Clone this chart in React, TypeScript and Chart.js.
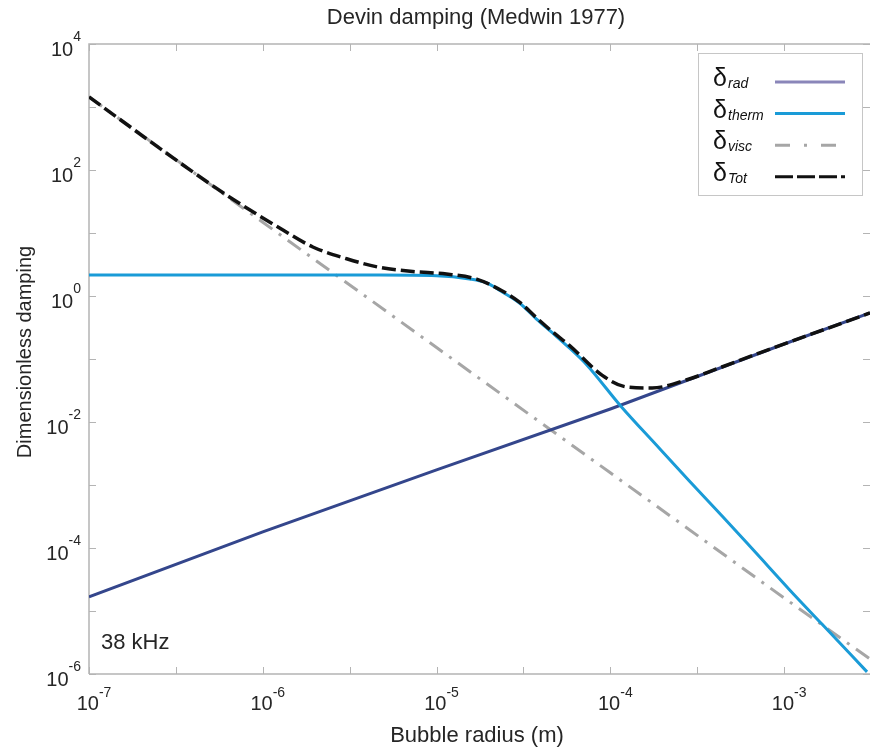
import React, { useEffect, useRef } from "react";
import { Chart, registerables } from "chart.js";

Chart.register(...registerables);

// ---- data ----
const radRadius = [1e-7, 1e-6, 1e-5, 1e-4, 1e-3, 3.12e-3];
const radDamping = [1.67e-5, 1.8e-4, 1.74e-3, 1.61e-2, 0.173, 0.537];

const viscRadius = [1e-7, 1e-6, 1e-5, 1e-4, 1e-3, 3.12e-3];
const viscDamping = [1443, 14.8, 0.152, 1.56e-3, 1.61e-5, 1.73e-6];

const thermRadius = [
  1e-7, 1e-6, 4.7e-6, 1e-5, 1.55e-5, 1.94e-5, 2.39e-5, 3.0e-5, 3.76e-5, 4.65e-5,
  5.81e-5, 7.28e-5, 1.16e-4, 1.84e-4, 2.84e-4, 4.41e-4, 6.9e-4, 1.07e-3, 1.65e-3, 3.0e-3,
];
const thermDamping = [
  2.15, 2.15, 2.15, 2.1, 1.86, 1.61, 1.16, 0.774, 0.431, 0.259,
  0.15, 0.082, 0.0173, 4.3e-3, 1.17e-3, 3.2e-4, 8.3e-5, 2.2e-5, 6.2e-6, 1.08e-6,
];

const totRadius = [
  1e-7, 3.34e-7, 6.46e-7, 1.25e-6, 1.94e-6, 3.04e-6, 4.7e-6, 7.28e-6, 1.14e-5, 1.7e-5,
  2.39e-5, 3.0e-5, 3.76e-5, 4.65e-5, 5.81e-5, 8.99e-5, 1.24e-4, 1.74e-4, 2.73e-4, 4.23e-4,
  7.18e-4, 3.12e-3,
];
const totDamping = [
  1445, 130, 37, 12, 6.0, 3.9, 2.85, 2.45, 2.23, 1.85,
  1.2, 0.8, 0.45, 0.27, 0.165, 0.055, 0.036, 0.0347, 0.0464, 0.072,
  0.124, 0.537,
];

const xLabelExponents = [-7, -6, -5, -4, -3];
const xTickExponents = [-7, -6.5, -6, -5.5, -5, -4.5, -4, -3.5, -3, -2.5];
const yLabelExponents = [-6, -4, -2, 0, 2, 4];
const yTickExponents = [-6, -5, -4, -3, -2, -1, 0, 1, 2, 3, 4];

const legendSymbols = ["δ", "δ", "δ", "δ"];
const legendSubscripts = ["rad", "therm", "visc", "Tot"];

const titleText = "Devin damping (Medwin 1977)";
const xTitle = "Bubble radius (m)";
const yTitle = "Dimensionless damping";
const noteText = "38 kHz";

const FONT = '"Liberation Sans", Arial, Helvetica, sans-serif';
const TEXT = "#262626";
const FRAME = "#b4b4b4";

const COL_RAD = "#34468c";
const COL_RAD_LEG = "#8a86b9";
const COL_THERM = "#1a9bd7";
const COL_VISC = "#a6a6a6";
const COL_TOT = "#111111";

const zip = (xs: number[], ys: number[]) => xs.map((x, i) => ({ x, y: ys[i] }));

const decor = {
  id: "decor",
  beforeDatasetsDraw(chart: any) {
    const { ctx, chartArea: a, scales } = chart;
    const xs = scales.x, ys = scales.y;
    ctx.save();
    ctx.strokeStyle = FRAME;
    ctx.lineWidth = 1.5;
    ctx.beginPath();
    ctx.moveTo(a.left, a.bottom);
    ctx.lineTo(a.left, a.top);
    ctx.lineTo(a.right + 2, a.top);
    ctx.moveTo(a.left, a.bottom);
    ctx.lineTo(a.right + 2, a.bottom);
    ctx.stroke();
    ctx.lineWidth = 1;
    ctx.beginPath();
    const T = 7;
    xTickExponents.forEach((e) => {
      const px = Math.round(xs.getPixelForValue(Math.pow(10, e))) + 0.5;
      ctx.moveTo(px, a.bottom);
      ctx.lineTo(px, a.bottom - T);
      ctx.moveTo(px, a.top);
      ctx.lineTo(px, a.top + T);
    });
    yTickExponents.forEach((e) => {
      const py = Math.round(ys.getPixelForValue(Math.pow(10, e))) + 0.5;
      ctx.moveTo(a.left, py);
      ctx.lineTo(a.left + T, py);
      ctx.moveTo(a.right, py);
      ctx.lineTo(a.right - T, py);
    });
    ctx.stroke();
    ctx.restore();
  },
  afterDraw(chart: any) {
    const { ctx, chartArea: a, scales } = chart;
    const xs = scales.x, ys = scales.y;
    ctx.save();
    ctx.fillStyle = TEXT;
    ctx.textBaseline = "alphabetic";
    ctx.textAlign = "left";

    const big = `20px ${FONT}`;
    const small = `14px ${FONT}`;
    const measure = (t: string, f: string) => { ctx.font = f; return ctx.measureText(t).width; };

    // y tick labels
    yLabelExponents.forEach((e) => {
      const py = ys.getPixelForValue(Math.pow(10, e));
      const es = String(e);
      const w10 = measure("10", big);
      const we = measure(es, small);
      const start = a.left - 8 - (w10 + we);
      ctx.font = big; ctx.fillText("10", start, py + 12);
      ctx.font = small; ctx.fillText(es, start + w10, py - 3);
    });
    // x tick labels
    xLabelExponents.forEach((e) => {
      const px = xs.getPixelForValue(Math.pow(10, e));
      const es = String(e);
      const w10 = measure("10", big);
      const we = measure(es, small);
      const start = px + 5 - (w10 + we) / 2;
      ctx.font = big; ctx.fillText("10", start, a.bottom + 36);
      ctx.font = small; ctx.fillText(es, start + w10, a.bottom + 23);
    });

    // titles
    ctx.textAlign = "center";
    ctx.font = `22px ${FONT}`;
    ctx.fillText(titleText, 476, 24);
    ctx.fillText(xTitle, 477, 742);
    ctx.save();
    ctx.translate(31, 352);
    ctx.rotate(-Math.PI / 2);
    ctx.font = `20px ${FONT}`;
    ctx.fillText(yTitle, 0, 0);
    ctx.restore();

    // note
    ctx.textAlign = "left";
    ctx.font = `22px ${FONT}`;
    ctx.fillText(noteText, 101, 649);

    // legend
    ctx.fillStyle = "#ffffff";
    ctx.fillRect(698.5, 53.5, 164, 142);
    ctx.strokeStyle = "#c6c6c6";
    ctx.lineWidth = 1;
    ctx.strokeRect(698.5, 53.5, 164, 142);
    const colors = [COL_RAD_LEG, COL_THERM, COL_VISC, COL_TOT];
    const dashes = [[], [], [15, 14, 3, 14], [18, 4]];
    legendSymbols.forEach((s, i) => {
      const base = 87 + 31.6 * i;
      ctx.fillStyle = "#111";
      ctx.font = `25px ${FONT}`;
      ctx.fillText(s, 713, base - 1);
      ctx.font = `italic 14px ${FONT}`;
      ctx.fillText(legendSubscripts[i], 728, base + 1);
      ctx.strokeStyle = colors[i];
      ctx.lineWidth = 3;
      ctx.setLineDash(dashes[i]);
      ctx.beginPath();
      ctx.moveTo(775, base - 5);
      ctx.lineTo(845, base - 5);
      ctx.stroke();
      ctx.setLineDash([]);
    });
    ctx.restore();
  },
};

export default function App() {
  const ref = useRef<HTMLCanvasElement>(null);
  useEffect(() => {
    if (!ref.current) return;
    const chart = new Chart(ref.current, {
      type: "line",
      data: {
        datasets: [
          {
            label: "δTot", data: zip(totRadius, totDamping), borderColor: COL_TOT,
            borderWidth: 3.5, borderDash: [14, 5], pointRadius: 0,
            cubicInterpolationMode: "monotone", order: 0,
          },
          {
            label: "δtherm", data: zip(thermRadius, thermDamping), borderColor: COL_THERM,
            borderWidth: 3, pointRadius: 0, cubicInterpolationMode: "monotone", order: 1,
          },
          {
            label: "δrad", data: zip(radRadius, radDamping), borderColor: COL_RAD,
            borderWidth: 3, pointRadius: 0, tension: 0, order: 2,
          },
          {
            label: "δvisc", data: zip(viscRadius, viscDamping), borderColor: COL_VISC,
            borderWidth: 3, borderDash: [16, 8, 3, 8], pointRadius: 0, tension: 0, order: 3,
          },
        ],
      } as any,
      options: {
        responsive: false,
        animation: false,
        events: [],
        layout: { padding: { left: 89, top: 44, right: 0, bottom: 80 } },
        scales: {
          x: { type: "logarithmic", min: 1e-7, max: 3.12e-3, display: false },
          y: { type: "logarithmic", min: 1e-6, max: 1e4, display: false },
        },
        plugins: {
          legend: { display: false },
          tooltip: { enabled: false },
          title: { display: false },
        },
      } as any,
      plugins: [decor],
    });
    return () => chart.destroy();
  }, []);
  return (
    <div style={{ position: "fixed", left: 0, top: 0, width: 870, height: 754, background: "#fff" }}>
      <canvas ref={ref} width={870} height={754} style={{ display: "block", width: 870, height: 754 }} />
    </div>
  );
}
